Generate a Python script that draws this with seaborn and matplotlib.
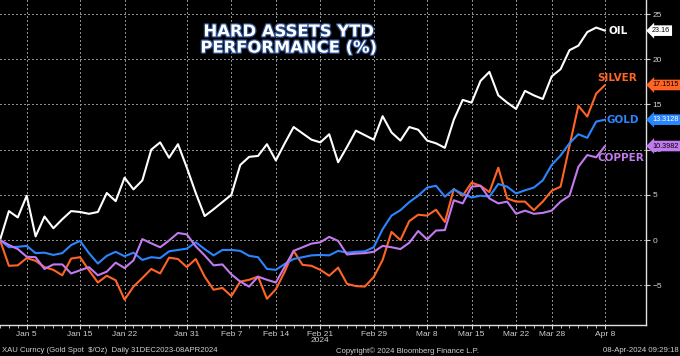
import numpy as np
import pandas as pd
import matplotlib.pyplot as plt
import matplotlib.patheffects as pe
from matplotlib import font_manager
import seaborn as sns

# YTD % change, one point per trading day from 2 Jan to 8 Apr 2024
days = np.arange(69)
oil = [0, 3.2, 2.5, 4.9, 0.4, 2.6, 1.3, 2.3, 3.2, 3.1, 2.9, 3.1, 5.2, 4.3, 6.9, 5.6, 6.6,
       10.0, 10.8, 9.1, 10.6, 8.0, 5.2, 2.65, 3.4, 4.2, 5.0, 8.3, 9.2, 9.3, 10.6, 8.8, 10.7,
       12.5, 11.8, 11.1, 10.8, 11.7, 8.6, 10.3, 12.1, 11.6, 11.1, 13.7, 11.9, 11.0, 12.5,
       12.2, 11.0, 10.7, 10.2, 13.3, 15.5, 15.2, 17.6, 18.6, 16.0, 15.2, 14.5, 16.5, 16.0,
       15.6, 18.1, 18.9, 21.0, 21.5, 23.0, 23.5, 23.16]
silver = [0, -2.85, -2.8, -2.0, -2.3, -3.0, -3.3, -3.9, -2.05, -1.9, -3.35, -4.7, -3.95,
          -4.45, -6.6, -5.15, -4.2, -3.2, -3.7, -1.95, -2.1, -3.0, -2.1, -4.05, -5.5, -5.3,
          -6.2, -4.6, -4.4, -4.05, -6.5, -5.45, -3.5, -1.2, -2.75, -2.85, -3.3, -3.95, -3.05,
          -4.85, -5.1, -5.15, -4.1, -2.2, 0.9, 0.0, 2.1, 2.8, 2.7, 3.35, 2.0, 5.65, 4.9,
          6.35, 6.0, 5.3, 8.0, 4.6, 4.25, 4.25, 3.3, 4.25, 5.45, 5.9, 10.4, 14.85, 13.65,
          16.2, 17.1515]
gold = [0, -0.8, -0.75, -0.65, -1.45, -1.4, -1.65, -1.45, -0.55, -0.1, -1.45, -2.6, -1.75,
        -1.3, -1.8, -1.4, -2.2, -1.9, -2.0, -1.25, -1.1, -0.95, -0.25, -1.0, -1.7, -1.1,
        -1.1, -1.2, -1.75, -1.9, -3.2, -3.3, -2.65, -2.1, -1.9, -1.7, -1.65, -1.7, -1.2,
        -1.4, -1.3, -1.25, -0.8, 1.2, 2.7, 3.3, 4.2, 4.9, 5.8, 6.0, 4.8, 5.6, 5.1, 4.7,
        4.9, 4.8, 6.2, 5.9, 5.15, 5.5, 5.8, 6.6, 8.3, 9.35, 10.7, 11.7, 11.3, 13.1, 13.3128]
copper = [0, -0.55, -1.0, -1.85, -1.9, -3.2, -2.7, -2.7, -3.7, -3.35, -3.0, -3.9, -3.5,
          -2.5, -3.1, -2.25, 0.1, -0.37, -0.8, -0.05, 0.78, 0.62, -0.7, -1.7, -2.8, -2.7,
          -3.8, -4.6, -5.15, -4.05, -4.4, -4.7, -2.95, -1.2, -0.8, -0.4, -0.25, 0.35, -0.1,
          -1.6, -1.5, -1.45, -1.3, -0.65, -0.8, -1.0, -0.3, 1.0, 0.07, 1.05, 1.1, 4.4, 4.05,
          5.9, 6.0, 4.6, 4.05, 4.25, 2.9, 3.25, 2.9, 3.0, 3.25, 4.25, 4.9, 8.1, 9.4, 9.15,
          10.3982]

names = ['OIL', 'SILVER', 'GOLD', 'COPPER']
colors = ['#ffffff', '#ff6424', '#2a86ff', '#c27af0']
tag_text = ['23.16', '17.1515', '13.3128', '10.3982']

y_ticks = [-5, 0, 5, 10, 15, 20, 25]
tick_pos = [3, 9, 14, 21, 26, 31, 36, 42, 48, 53, 58, 62, 68]
tick_lab = ['Jan 5', 'Jan 15', 'Jan 22', 'Jan 31', 'Feb 7', 'Feb 14', 'Feb 21',
            'Feb 29', 'Mar 8', 'Mar 15', 'Mar 22', 'Mar 28', 'Apr 8']

df = pd.DataFrame({
    'day': np.tile(days, 4),
    'pct': oil + silver + gold + copper,
    'asset': np.repeat(names, len(days)),
})

sns.set_style('dark')
plt.rcParams['font.family'] = ['DejaVu Sans']

installed = {f.name for f in font_manager.fontManager.ttflist}
small_font = 'Liberation Sans Narrow' if 'Liberation Sans Narrow' in installed else 'Liberation Sans'
scale = 1.15 if small_font == 'Liberation Sans Narrow' else 1.0

fig = plt.figure(figsize=(6.8, 3.56), dpi=100, facecolor='black')
ax = fig.add_axes([0, 31 / 356, 646 / 680, 325 / 356])
ax.set_facecolor('black')

sns.lineplot(data=df, x='day', y='pct', hue='asset', palette=dict(zip(names, colors)),
             linewidth=1.5, legend=False, ax=ax, zorder=3)

ax.set_xlim(0, 72.6)
ax.set_ylim(-9.4, 26.55)
ax.set_xlabel('')
ax.set_ylabel('')

# dotted grid at the major ticks, crisp like the terminal
grid_kw = dict(color='#8c8c8c', linestyle=(0, (1, 2)), linewidth=0.75, zorder=2,
               antialiased=False)
for t in tick_pos:
    ax.axvline(t, **grid_kw)
for t in y_ticks:
    ax.axhline(t, **grid_kw)

ax.yaxis.tick_right()
ax.set_yticks(y_ticks)
ax.set_xticks(tick_pos, tick_lab)
ax.set_xticks(days, minor=True)
ax.tick_params(axis='both', which='major', colors='#d0d0d0', labelsize=6 * scale,
               length=3, width=0.8, pad=1.5, bottom=True, right=True)
ax.tick_params(axis='x', which='minor', colors='#d0d0d0', length=2, width=0.6, bottom=True)
for lab in ax.get_xticklabels() + ax.get_yticklabels():
    lab.set_fontfamily(small_font)

for side in ['top', 'left']:
    ax.spines[side].set_visible(False)
for side in ['bottom', 'right']:
    ax.spines[side].set_visible(True)
    ax.spines[side].set_color('#e0e0e0')
    ax.spines[side].set_linewidth(1)

# title with a bluish outline
ax.text(0.447, 0.877, 'HARD ASSETS YTD\nPERFORMANCE (%)', transform=ax.transAxes,
        ha='center', va='center', fontsize=11.8, fontweight='bold', color='white',
        linespacing=1.1, zorder=5,
        path_effects=[pe.withStroke(linewidth=1.8, foreground='#2b4f8f')])

# series names next to the line ends
label_offsets = [(3, 0), (-8, 7), (1, 0), (-8, -12)]
series = [oil, silver, gold, copper]
for name, col, vals, off in zip(names, colors, series, label_offsets):
    ax.annotate(name, xy=(days[-1], vals[-1]), xytext=off, textcoords='offset pixels',
                ha='left', va='center', fontsize=7.5, fontweight='bold', color=col, zorder=5)

# value tags on the right axis, covering the tick labels as in the terminal
for txt, col, vals in zip(tag_text, colors, series):
    tcol = 'white' if col == '#2a86ff' else 'black'
    ax.annotate(txt, xy=(1, vals[-1]), xycoords=('axes fraction', 'data'),
                xytext=(6, 0), textcoords='offset pixels', ha='left', va='center',
                fontsize=5.2 * scale, family=small_font, color=tcol, annotation_clip=False,
                zorder=10, bbox=dict(boxstyle='larrow,pad=0.25', fc=col, ec='none'))

fig.text(320 / 680, 15 / 356, '2024', ha='center', va='center', color='#d0d0d0',
         fontsize=6 * scale, family=small_font)
fig.text(0.003, 5 / 356, 'XAU Curncy (Gold Spot  $/Oz)  Daily 31DEC2023-08APR2024',
         ha='left', va='center', color='#d0d0d0', fontsize=5.6 * scale, family=small_font)
fig.text(336 / 680, 5 / 356, 'Copyright\u00a9 2024 Bloomberg Finance L.P.',
         ha='left', va='center', color='#d0d0d0', fontsize=5.6 * scale, family=small_font)
fig.text(0.998, 5 / 356, '08-Apr-2024 09:29:18', ha='right', va='center',
         color='#d0d0d0', fontsize=5.6 * scale, family=small_font)

fig.savefig('out.png', dpi=100, facecolor='black')
